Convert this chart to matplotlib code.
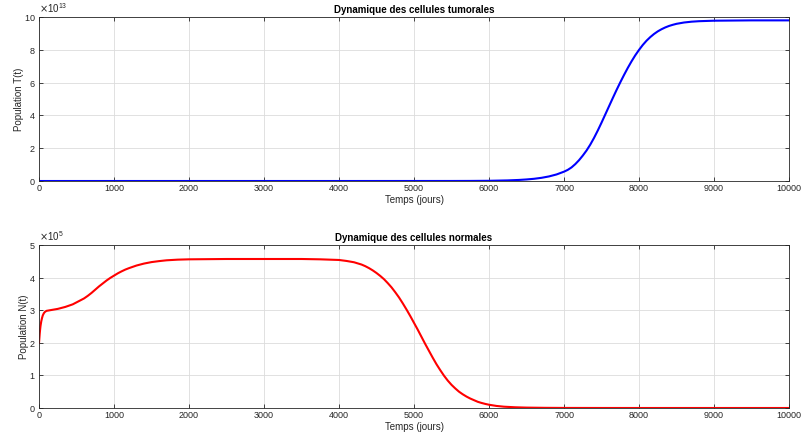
import matplotlib
matplotlib.use("Agg")
import matplotlib.pyplot as plt
import numpy as np
from matplotlib.ticker import ScalarFormatter, MultipleLocator

plt.rcParams['font.family'] = ['Liberation Sans', 'DejaVu Sans']

# Cellules tumorales T(t), en unites de 1e13
t_T = [0, 1000, 2000, 3000, 4000, 5000, 5500, 5750, 6000, 6250, 6400, 6500,
       6600, 6700, 6800, 6900, 7000, 7050, 7100, 7150, 7200, 7250, 7300, 7350,
       7400, 7450, 7500, 7550, 7600, 7650, 7700, 7750, 7800, 7850, 7900, 7950,
       8000, 8050, 8100, 8150, 8200, 8250, 8300, 8350, 8400, 8450, 8500, 8600,
       8700, 8800, 9000, 9500, 10000]
T_e13 = [0, 0, 0, 0, 0, 0.001, 0.002, 0.005, 0.013, 0.037, 0.065, 0.095,
         0.135, 0.195, 0.28, 0.4, 0.57, 0.68, 0.83, 1.03, 1.27, 1.55, 1.86, 2.22,
         2.63, 3.08, 3.56, 4.06, 4.56, 5.06, 5.55, 6.02, 6.47, 6.9, 7.3, 7.67,
         8.0, 8.3, 8.56, 8.78, 8.97, 9.13, 9.26, 9.37, 9.46, 9.53, 9.59, 9.67,
         9.72, 9.75, 9.78, 9.8, 9.8]

# Cellules normales N(t), en unites de 1e5
t_N = [0, 5, 10, 15, 20, 30, 40, 50, 65, 80, 100, 150, 250, 350, 450, 550,
       600, 650, 700, 750, 800, 850, 900, 950, 1000, 1050, 1100, 1150, 1200,
       1300, 1400, 1500, 1600, 1700, 1850, 2000, 2500, 3000, 3500, 3750, 4000,
       4100, 4200, 4300, 4350, 4400, 4450, 4500, 4550, 4600, 4650, 4700, 4750,
       4800, 4850, 4900, 4950, 5000, 5050, 5100, 5150, 5200, 5250, 5300, 5350,
       5400, 5450, 5500, 5550, 5600, 5650, 5700, 5750, 5800, 5850, 5900, 5950,
       6000, 6100, 6200, 6350, 6500, 6750, 7000, 7500, 8000, 10000]
N_e5 = [2.0, 2.15, 2.3, 2.42, 2.52, 2.66, 2.76, 2.84, 2.91, 2.95, 2.98, 3.0,
        3.04, 3.1, 3.18, 3.3, 3.36, 3.44, 3.53, 3.63, 3.73, 3.82, 3.91, 3.99,
        4.06, 4.13, 4.19, 4.245, 4.29, 4.37, 4.43, 4.475, 4.505, 4.53, 4.55, 4.56,
        4.57, 4.57, 4.57, 4.56, 4.54, 4.51, 4.47, 4.4, 4.35, 4.29, 4.22, 4.14,
        4.05, 3.95, 3.83, 3.7, 3.55, 3.39, 3.21, 3.02, 2.82, 2.61, 2.4, 2.18,
        1.96, 1.75, 1.54, 1.34, 1.16, 0.99, 0.84, 0.71, 0.6, 0.5, 0.42, 0.35,
        0.29, 0.24, 0.19, 0.155, 0.125, 0.1, 0.063, 0.04, 0.022, 0.012, 0.005,
        0.002, 0.0005, 0, 0]

T_vals = np.array(T_e13) * 1e13
N_vals = np.array(N_e5) * 1e5

fig = plt.figure(figsize=(8.03, 4.43), dpi=100)
ax1 = fig.add_axes([0.0486, 0.5914, 0.934, 0.370])
ax2 = fig.add_axes([0.0486, 0.079, 0.934, 0.368])

def style_axes(ax, ymax, ystep, expo, title, ylabel):
    ax.set_xlim(0, 10000)
    ax.set_ylim(0, ymax)
    ax.xaxis.set_major_locator(MultipleLocator(1000))
    ax.yaxis.set_major_locator(MultipleLocator(ystep))
    fmt = ScalarFormatter(useMathText=True)
    fmt.set_powerlimits((expo, expo))  # echelle fixe comme MATLAB
    ax.yaxis.set_major_formatter(fmt)
    ax.yaxis.get_offset_text().set_fontsize(7)
    ax.yaxis.get_offset_text().set_color('#262626')
    ax.grid(True, color='#dcdcdc', linewidth=0.6)
    ax.tick_params(direction='in', length=3, width=0.6, labelsize=6.5,
                   colors='#262626', top=True, right=True, pad=2.5)
    for sp in ax.spines.values():
        sp.set_color('#262626')
        sp.set_linewidth(0.6)
    ax.set_title(title, fontsize=7, fontweight='bold', pad=3)
    ax.set_xlabel('Temps (jours)', fontsize=7, color='#262626', labelpad=1)
    ax.set_ylabel(ylabel, fontsize=7, color='#262626', labelpad=0)

ax1.plot(t_T, T_vals, color=(0, 0, 1), linewidth=1.5)
style_axes(ax1, 10e13, 2e13, 13, 'Dynamique des cellules tumorales', 'Population T(t)')

ax2.plot(t_N, N_vals, color=(1, 0, 0), linewidth=1.5)
style_axes(ax2, 5e5, 1e5, 5, 'Dynamique des cellules normales', 'Population N(t)')

fig.savefig('out.png', dpi=100)
